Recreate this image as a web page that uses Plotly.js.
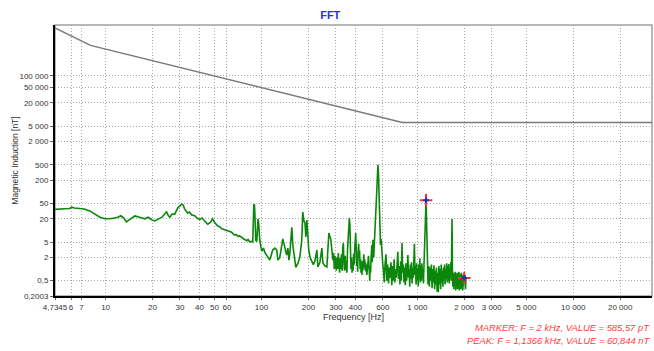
<!DOCTYPE html>
<html>
<head>
<meta charset="utf-8">
<script src="https://cdn.plot.ly/plotly-3.0.1.min.js"></script>
<style>html,body{margin:0;padding:0;background:#fff;}#chart{width:654px;height:351px;}</style>
</head>
<body>
<div id="chart"></div>
<script>
// Measured FFT spectrum (frequency in Hz, magnetic induction in nT)
const freqHz = [
4.7345,5.0,5.5,5.9,6.05,6.3,6.8,7.3,7.9,8.5,9.2,9.9,10.6,11.4,12.0,12.5,13.1,13.6,14.5,15.4,16.5,17.8,18.8,19.6,20.6,21.4,22.2,23.0,24.0,24.6,25.3,25.8,26.7,27.7,29.0,30.0,30.8,31.5,32.1,33.6,34.5,35.7,37.3,38.5,40.2,41.5,43.3,45.2,47.0,48.5,50.1,52.4,54.0,55.6,57.5,60.0,62.0,64.4,66.0,67.4,69.0,70.5,72.5,74.7,77.0,78.2,80.5,82.0,84.1,86.0,87.9,89.2,90.0,90.6,91.9,93.3,94.2,95.0,96.0,97.5,
100.4,103,105,108,111,113,118,122,125.4,127.3,131,135,137,139,141,145,147.6,150,152,154,156.5,159,162,166,171,176,181.4,184,187,190,192.6,195.5,198,201,205,210,215,220,226.6,230,237,244,247.6,255,262.6,270.5,275,278.6,283,
287,290,293,296,299,302,305,308,311,314,
317,320,323,326,329,332,335,338,341,344,
347,350,353,356,359,362,366,369,372,375,
378,381,384,387,390,393,396,399,402,405,
408,411,414,417,420,423,426,429,432,435,
438,441,444,447,450,453,456,459,462,465,
468,471,474,477,480,483,486,489,492,495,
498,501,504,507,510,513,516,519,522,525,
528,531,534,538,542,546,550,555,559,563,
567,571,575,580,585,592,597,601,
605,613,621,629,637,645,653,661,669,677,685,693,701,709,717,725,733,741,749,757,765,773,781,789,797,805,813,821,829,837,845,853,861,869,877,885,893,901,909,917,925,933,941,949,957,965,973,981,989,997,1005,1013,1021,1029,1037,1045,1053,1061,1069,1077,1085,1093,1101,
1108,1115,1122,1128,1133,1136.6,1140,1145,1150,1156,1162,
1170,1182,1194,1206,1218,1230,1242,1254,1266,1278,1290,1302,1314,1326,1338,1350,1362,1374,1386,1398,1410,1422,1434,1446,1458,1470,1482,1494,1506,1518,1530,1542,1554,1566,1578,1590,1602,1614,1626,1638,1650,1658,1664,1668,1672,1678,1690,1702,1714,1726,1738,1750,1762,1774,1786,1798,1810,1822,1834,1846,1858,1870,1882,1894,1906,1918,1930,1942,1954,1966,1978,1990,2000,2012,2024,2036,2048
];
const inductionNT = [
35,36,36.5,37,40,38,37,36,32,27,22,20,20,21,22,24,21,16.6,19.5,23.7,22,20,22,19,17.6,19,21,22,27,30,24,22,26.5,26,38,45,48,45,36,28,30,25,24,21,19,21,17,14.5,16,20,16,13,12.5,11,10.5,10,9.5,9,8,7.6,7.8,7,7.2,6.4,6,5.8,5.4,5.8,5,5.2,5,45,48,30,5.5,5.2,12,20,15,5.5,
2.9,3.5,2.7,2.2,1.8,1.7,3.1,3.5,3.1,1.7,2.0,4.5,6,4.7,3.5,2.3,3.5,1.7,2.5,7,12,4,2,1.1,1.4,2.0,5.7,30,18,15.6,6.8,18.7,8,3.1,2.0,1.5,1.3,1.6,3.1,1.13,1.5,3.5,1.44,1.2,1.13,8.6,6,5.7,3,
1.7,2.6,1.0,2.2,1.1,0.9,2.0,1.0,2.6,1.1,
0.8,1.9,1.0,2.4,0.9,3.5,4.7,1.5,0.9,2.2,
0.95,1.6,0.8,2.8,5,12,21,14,3,1.0,
2.0,0.8,1.5,0.9,2.5,1.3,3.1,5.7,8.6,3.7,
1.2,2.2,0.85,2.8,4.5,2.0,3.0,1.0,1.8,0.8,
1.4,0.7,1.6,0.9,1.3,2.4,1.1,1.8,0.95,1.5,
0.85,1.3,0.7,1.2,0.95,1.6,2.2,1.0,1.5,0.5,
1.2,0.8,1.6,2.6,4.2,1.5,2.6,5.7,3.0,2.0,
3.5,5.5,7.0,10,20,60,126,300,497,300,
99,30,7,4.2,6,2.3,1.5,1.2,
1.0,0.45,1.4,2.4,0.5,1.3,0.42,1.1,0.6,1.5,0.38,1.2,0.5,1.8,0.45,1.0,0.6,1.3,2.8,0.55,1.2,0.4,1.6,0.5,4.7,0.8,1.3,0.45,1.1,0.38,1.4,0.5,1.2,2.3,0.6,1.0,0.35,1.3,0.55,1.5,0.42,1.1,0.6,1.7,4.5,0.7,1.2,0.4,1.4,0.5,1.0,0.36,1.3,0.55,1.9,0.45,1.2,0.5,1.4,0.6,1.0,0.42,1.5,
0.7,2.0,6.4,20,50,60.844,40,12,3.0,0.9,1.4,
0.4,1.2,0.35,1.1,0.5,1.3,0.32,1.0,0.45,1.25,0.3,0.9,0.4,1.1,0.26,0.8,0.25,1.2,0.4,1.0,0.3,1.3,0.45,0.9,0.35,1.1,0.5,1.3,0.4,1.0,0.55,1.4,0.45,1.2,0.5,1.35,0.42,1.1,0.6,1.5,0.5,2.5,12,19.8,8,1.0,0.35,0.8,0.3,0.75,0.4,0.85,0.28,0.7,0.35,0.8,0.3,0.65,0.4,0.85,0.28,0.75,0.35,0.6,0.3,0.8,0.33,0.7,0.28,0.65,0.35,0.75,0.5856,0.4,0.7,0.3,0.6
];

// Reference limit curve (gray)
const limitFreqHz = [4.7345, 8, 800, 32000];
const limitNT = [1.75e6, 6.2e5, 6250, 6250];

// Marker and peak points
const markerFreqHz = [1136.6, 2000];
const markerNT = [60.844, 0.5856];

// Axis ticks
const xTickVals = [4.7345, 6, 7, 10, 20, 30, 40, 50, 60, 100, 200, 300, 400, 600, 1000, 2000, 3000, 5000, 10000, 20000];
const xTickText = ["4,7345", "6", "7", "10", "20", "30", "40", "50", "60", "100", "200", "300", "400", "600", "1 000", "2 000", "3 000", "5 000", "10 000", "20 000"];
const yTickVals = [0.2003, 0.5, 2, 5, 20, 50, 200, 500, 2000, 5000, 20000, 50000, 100000];
const yTickText = ["0,2003", "0,5", "2", "5", "20", "50", "200", "500", "2 000", "5 000", "20 000", "50 000", "100 000"];

const FONT = "Liberation Sans, Arial, sans-serif";

const traces = [
  {x: limitFreqHz, y: limitNT, type: "scatter", mode: "lines",
   line: {color: "#7a7a7a", width: 1.5}, hoverinfo: "skip"},
  {x: freqHz, y: inductionNT, type: "scatter", mode: "lines",
   line: {color: "#0b870b", width: 1.6}, hoverinfo: "skip"},
  {x: markerFreqHz, y: markerNT, type: "scatter", mode: "markers",
   marker: {symbol: "cross-thin", size: 9, line: {color: "#ff3030", width: 2}}},
  {x: markerFreqHz, y: markerNT, type: "scatter", mode: "markers",
   marker: {symbol: "cross-thin", size: 4, line: {color: "#2030d0", width: 2}}}
];

const layout = {
  width: 654, height: 351,
  margin: {l: 55, r: 2, t: 25, b: 55, pad: 0},
  paper_bgcolor: "#ffffff", plot_bgcolor: "#ffffff",
  showlegend: false,
  font: {family: FONT, size: 8, color: "#333"},
  title: {text: "<b>FFT</b>", font: {family: FONT, size: 11, color: "#2a2aff"},
          xref: "container", x: 0.505, xanchor: "center", yref: "container", y: 0.957, yanchor: "middle"},
  xaxis: {
    type: "log", range: [Math.log10(4.7345), Math.log10(32000)],
    tickmode: "array", tickvals: xTickVals, ticktext: xTickText, tickangle: 0,
    showgrid: true, gridcolor: "#a8a8a8", griddash: "1px,2px", gridwidth: 1,
    showline: true, linecolor: "#000", linewidth: 2,
    ticks: "outside", ticklen: 2, tickcolor: "#666",
    tickfont: {family: FONT, size: 8, color: "#333"},
    zeroline: false,
    title: {text: "Frequency [Hz]", font: {family: FONT, size: 9, color: "#333"}, standoff: 2}
  },
  yaxis: {
    type: "log", range: [Math.log10(0.2003), 6.32],
    tickmode: "array", tickvals: yTickVals, ticktext: yTickText, tickangle: 0,
    showgrid: true, gridcolor: "#a8a8a8", griddash: "1px,2px", gridwidth: 1,
    showline: true, linecolor: "#000", linewidth: 2,
    ticks: "outside", ticklen: 3, tickcolor: "#666",
    tickfont: {family: FONT, size: 8, color: "#333"},
    zeroline: false,
    title: {text: "Magnetic Induction [nT]", font: {family: FONT, size: 8.5, color: "#333"}, standoff: 0}
  },
  shapes: [
    {type: "rect", xref: "paper", yref: "paper", x0: 0, x1: 1, y0: 0, y1: 1,
     line: {color: "#a0a0a0", width: 1.5}, layer: "below"}
  ],
  annotations: [
    {text: "<i>MARKER: F = 2 kHz, VALUE = 585,57 pT</i>", xref: "paper", yref: "paper",
     x: 1, xanchor: "right", y: -0.118, yanchor: "middle", showarrow: false,
     font: {family: FONT, size: 9.4, color: "#ff3b3b"}},
    {text: "<i>PEAK: F = 1,1366 kHz, VALUE = 60,844 nT</i>", xref: "paper", yref: "paper",
     x: 1, xanchor: "right", y: -0.166, yanchor: "middle", showarrow: false,
     font: {family: FONT, size: 9.4, color: "#ff3b3b"}}
  ]
};

Plotly.newPlot("chart", traces, layout, {displayModeBar: false, staticPlot: true});
</script>
</body>
</html>
